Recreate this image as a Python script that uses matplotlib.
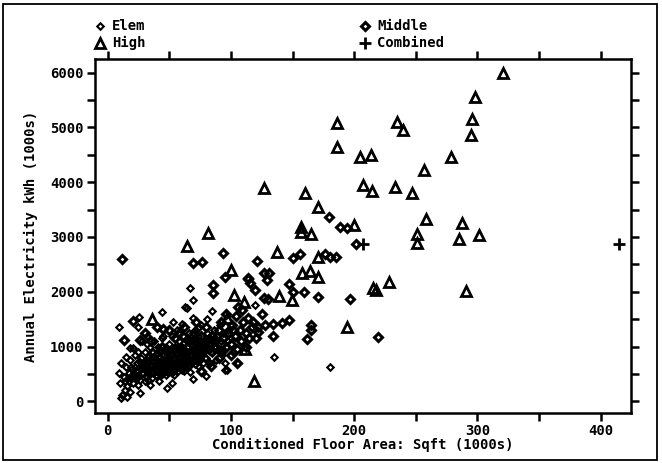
import matplotlib
matplotlib.use("Agg")
import matplotlib.pyplot as plt
from matplotlib.patches import Rectangle
from matplotlib.ticker import MultipleLocator

# ---------------- data (x: floor area, 1000s sqft; y: annual kWh, 1000s) ----------------
elem_x = [
    9, 10, 10.5, 14, 12, 8.9, 13, 15, 11, 14,
    16, 17, 18, 19, 20, 20.8, 21, 22, 18, 16,
    23, 24, 24.8, 25, 26, 26.4, 27, 28, 25.6, 24.8,
    29, 30, 30, 31, 32, 32, 33, 33, 34, 34,
    35, 35, 36, 36, 37, 38, 38, 39, 39, 40,
    41, 41, 42, 42, 43, 43, 44, 44, 44.3, 45,
    46, 46, 47, 47, 48, 47.8, 48, 49, 49, 50,
    51, 51, 51.9, 52, 52, 53, 53, 53.2, 54, 54,
    55, 55, 56, 56, 57, 57, 58, 58, 59, 59,
    60, 60, 60, 61, 61, 62, 62, 63, 63, 64,
    64, 64, 65, 65, 66, 66, 67, 66.9, 67, 68,
    69.4, 69.5, 69.5, 69, 70, 70, 71, 71, 72, 72,
    73, 73, 74, 74, 75, 76, 76, 77, 77, 78,
    79.7, 80, 80.3, 80, 81, 82, 83, 83, 84, 84.3,
    85, 86, 87, 88, 89, 90, 91, 92, 93, 94,
    95, 95, 96.5, 97, 98, 100, 102, 106, 119.6, 134.9,
    36, 37, 38, 39, 40, 40, 41, 42, 43, 44,
    45, 46, 47, 48, 49, 50, 50, 51, 52, 53,
    54, 55, 56, 57, 58, 59, 60, 60, 61, 62,
    63, 64, 65, 66, 67, 68, 69, 70, 71, 72,
    20, 22, 24, 26, 28, 30, 31, 33, 35, 37,
    180.5, 15, 18, 28, 32, 45, 57, 74, 86, 98,
    31, 32, 34, 36, 38, 39, 41, 42, 43, 44,
    45, 46, 47, 48, 49, 50, 51, 52, 53, 54,
    55, 56, 57, 58, 59, 60, 61, 62, 63, 64,
    65, 66, 67, 68, 69, 70, 71, 72, 73, 74,
    75, 76, 77, 78, 79, 80, 82, 84, 86, 88,
    27, 29, 23, 21, 19, 17, 25, 33, 40, 52,
]
elem_y = [
    514, 332, 58, 210, 120, 1364, 450, 620, 700, 380,
    280, 520, 760, 430, 600, 970, 330, 850, 180, 90,
    480, 700, 908, 560, 400, 150, 800, 640, 1536, 1364,
    520, 900, 380, 700, 1050, 450, 600, 820, 300, 1000,
    680, 520, 900, 420, 760, 600, 1100, 480, 850, 700,
    999, 560, 800, 380, 650, 920, 500, 1150, 1638, 720,
    600, 850, 480, 1000, 700, 241, 900, 560, 780, 1050,
    640, 880, 332, 720, 1200, 560, 960, 1455, 800, 480,
    1000, 660, 880, 1300, 740, 560, 1100, 920, 640, 820,
    1408, 1000, 700, 860, 1200, 560, 960, 780, 1729, 1100,
    1700, 880, 640, 1000, 760, 1250, 920, 2075, 540, 1050,
    405, 1851, 1517, 800, 1150, 960, 680, 1300, 880, 1050,
    760, 1200, 980, 620, 1100, 860, 1400, 1000, 700, 920,
    465, 1100, 1499, 800, 1250, 960, 700, 1150, 1050, 1650,
    880, 1300, 1000, 760, 1200, 950, 1400, 1100, 850, 1250,
    697, 574, 574, 1000, 1300, 1150, 900, 697, 1760, 806,
    640, 520, 760, 650, 560, 880, 740, 620, 480, 860,
    540, 700, 620, 540, 680, 820, 600, 760, 620, 700,
    900, 760, 620, 880, 700, 980, 800, 580, 740, 860,
    660, 780, 880, 640, 780, 700, 940, 820, 1000, 760,
    480, 620, 420, 720, 520, 620, 460, 520, 800, 900,
    635, 820, 980, 1100, 1200, 1200, 1250, 1350, 1150, 1100,
    560, 760, 650, 540, 820, 560, 660, 920, 560, 760,
    640, 940, 760, 620, 900, 700, 560, 860, 640, 980,
    580, 740, 1000, 820, 720, 900, 620, 1060, 880, 700,
    1150, 900, 660, 860, 1100, 740, 880, 960, 1000, 840,
    760, 1000, 880, 1100, 800, 960, 1050, 900, 1000, 1100,
    600, 700, 560, 440, 620, 380, 300, 400, 460, 520,
]

middle_x = [
    11.4, 69.4, 76.7, 93.8, 95.3, 113.5, 85.6, 85.3, 121.3, 150.5,
    156.1, 176.2, 180.3, 185.2, 127, 131.1, 129, 114, 115.4, 119.5,
    147, 159, 170.3, 150.5, 127, 130.3, 196.5, 180, 188.4, 193.8,
    201.9, 219.2, 106, 108.7, 113.5, 118, 127.7, 134.5, 141.3, 147.5,
    122.3, 122.3, 134.5, 164.6, 164.6, 161.4, 39.7, 45.1, 13.4, 26.4,
    88, 90, 92, 94, 96, 98, 100, 101, 103, 104,
    105, 107, 108, 110, 112, 115, 117, 100, 90, 85,
    80, 78, 75, 72, 70, 66, 62, 58, 55, 50,
    44, 35, 30, 125, 112, 120, 105, 84, 76, 20.8,
    60, 64, 68, 72, 76, 82, 86, 92, 96, 102,
]
middle_y = [
    2593, 2532, 2550, 2702, 2276, 2258, 2125, 1973, 2562, 2611,
    2690, 2690, 2630, 2630, 2349, 2349, 2216, 2228, 2156, 2033,
    2137, 2003, 1911, 2003, 1882, 1864, 1864, 3371, 3188, 3158,
    2878, 1176, 1729, 1669, 1517, 1455, 1395, 1413, 1437, 1486,
    1364, 1273, 1195, 1395, 1304, 1140, 1353, 1316, 1122, 1122,
    1000, 1300, 1450, 1150, 1600, 1250, 1050, 1400, 1200, 1550,
    950, 1300, 1100, 1450, 1250, 1150, 1350, 850, 800, 1200,
    1350, 1050, 900, 1450, 1250, 1100, 1350, 1250, 1150, 1300,
    1000, 1100, 1250, 1600, 1000, 1150, 700, 650, 550, 1474,
    900, 1000, 850, 1100, 1200, 950, 1100, 900, 1000, 1300,
]

high_x = [
    35.7, 64.6, 81.1, 100.2, 102.7, 110.8, 96.5, 111.4, 118.8, 137.6,
    139.2, 149.2, 157.8, 164.2, 170.8, 170.3, 156.5, 156.5, 164.9, 126.5,
    160, 171, 186.2, 185.7, 200, 234.6, 239.8, 204.6, 213.3, 278.2,
    256.8, 206.8, 214.6, 233.3, 246.8, 258.1, 250.9, 250.6, 287.3, 284.9,
    301.1, 214.9, 217.6, 228.1, 291.1, 193.8, 320.4, 297.9, 296.0, 294.6,
]
high_y = [
    1499, 2842, 3079, 2398, 1942, 1820, 1517, 952, 374, 2721,
    1924, 1851, 2338, 2386, 2276, 2641, 3188, 3097, 3055, 3900,
    3797, 3553, 5074, 4636, 3220, 5089, 4950, 4465, 4501, 4459,
    4217, 3943, 3845, 3918, 3808, 3334, 3055, 2896, 3256, 2964,
    3031, 2065, 2034, 2174, 2015, 1353, 5997, 5548, 5147, 4866,
]

combined_x = [207.3, 414.7]
combined_y = [2867, 2880]

x_ticks = [0, 100, 200, 300, 400]
y_ticks = [0, 1000, 2000, 3000, 4000, 5000, 6000]

# ---------------- figure ----------------
plt.rcParams['font.family'] = ['DejaVu Sans Mono']
plt.rcParams['font.weight'] = 'bold'

fig = plt.figure(figsize=(6.62, 4.63), dpi=100)
ax = fig.add_axes([0.143, 0.108, 0.810, 0.765])

common = dict(linestyle='none', color='black', mfc='none')
ax.plot(elem_x, elem_y, marker='D', ms=3.3, mew=1.5, **common)
ax.plot(middle_x, middle_y, marker='D', ms=4.3, mew=2.2, **common)
ax.plot(high_x, high_y, marker='^', ms=6.6, mew=2.0, **common)
ax.plot(combined_x, combined_y, marker='+', ms=8, mew=2.0, **common)

ax.set_xlim(-10.5, 424.5)
ax.set_ylim(-210, 6250)
ax.set_xticks(x_ticks)
ax.set_yticks(y_ticks)
ax.xaxis.set_minor_locator(MultipleLocator(50))
ax.yaxis.set_minor_locator(MultipleLocator(500))
ax.tick_params(which='both', direction='out', top=True, right=True,
               labeltop=False, labelright=False, width=1.8, length=6)
ax.tick_params(axis='both', which='major', labelsize=10, pad=2)
for lab in ax.get_xticklabels() + ax.get_yticklabels():
    lab.set_fontweight('bold')
for sp in ax.spines.values():
    sp.set_linewidth(1.8)

ax.set_xlabel('Conditioned Floor Area: Sqft (1000s)', fontsize=10,
              fontweight='bold', labelpad=0)
ax.set_ylabel('Annual Electricity kWh (1000s)', fontsize=10,
              fontweight='bold', labelpad=9)

# legend drawn above the axes
def fx(px):
    return px / 662.0

def fy(py):
    return 1 - py / 463.0

leg = [
    ('Elem', 'D', 3.3, 1.5, 100, 26),
    ('High', '^', 6.6, 2.0, 100, 43),
    ('Middle', 'D', 4.3, 2.2, 365, 26),
    ('Combined', '+', 8, 2.0, 365, 43),
]
for label, mk, ms, mew, px, py in leg:
    fig.add_artist(plt.Line2D([fx(px)], [fy(py)], marker=mk, ms=ms, mew=mew,
                              color='black', mfc='none', linestyle='none',
                              transform=fig.transFigure))
    fig.text(fx(px + 12), fy(py), label, fontsize=10, fontweight='bold',
             va='center', ha='left')

fig.add_artist(Rectangle((0.005, 0.007), 0.988, 0.985, transform=fig.transFigure,
                         fill=False, lw=1.3, ec='black'))

fig.savefig('out.png', dpi=100)
